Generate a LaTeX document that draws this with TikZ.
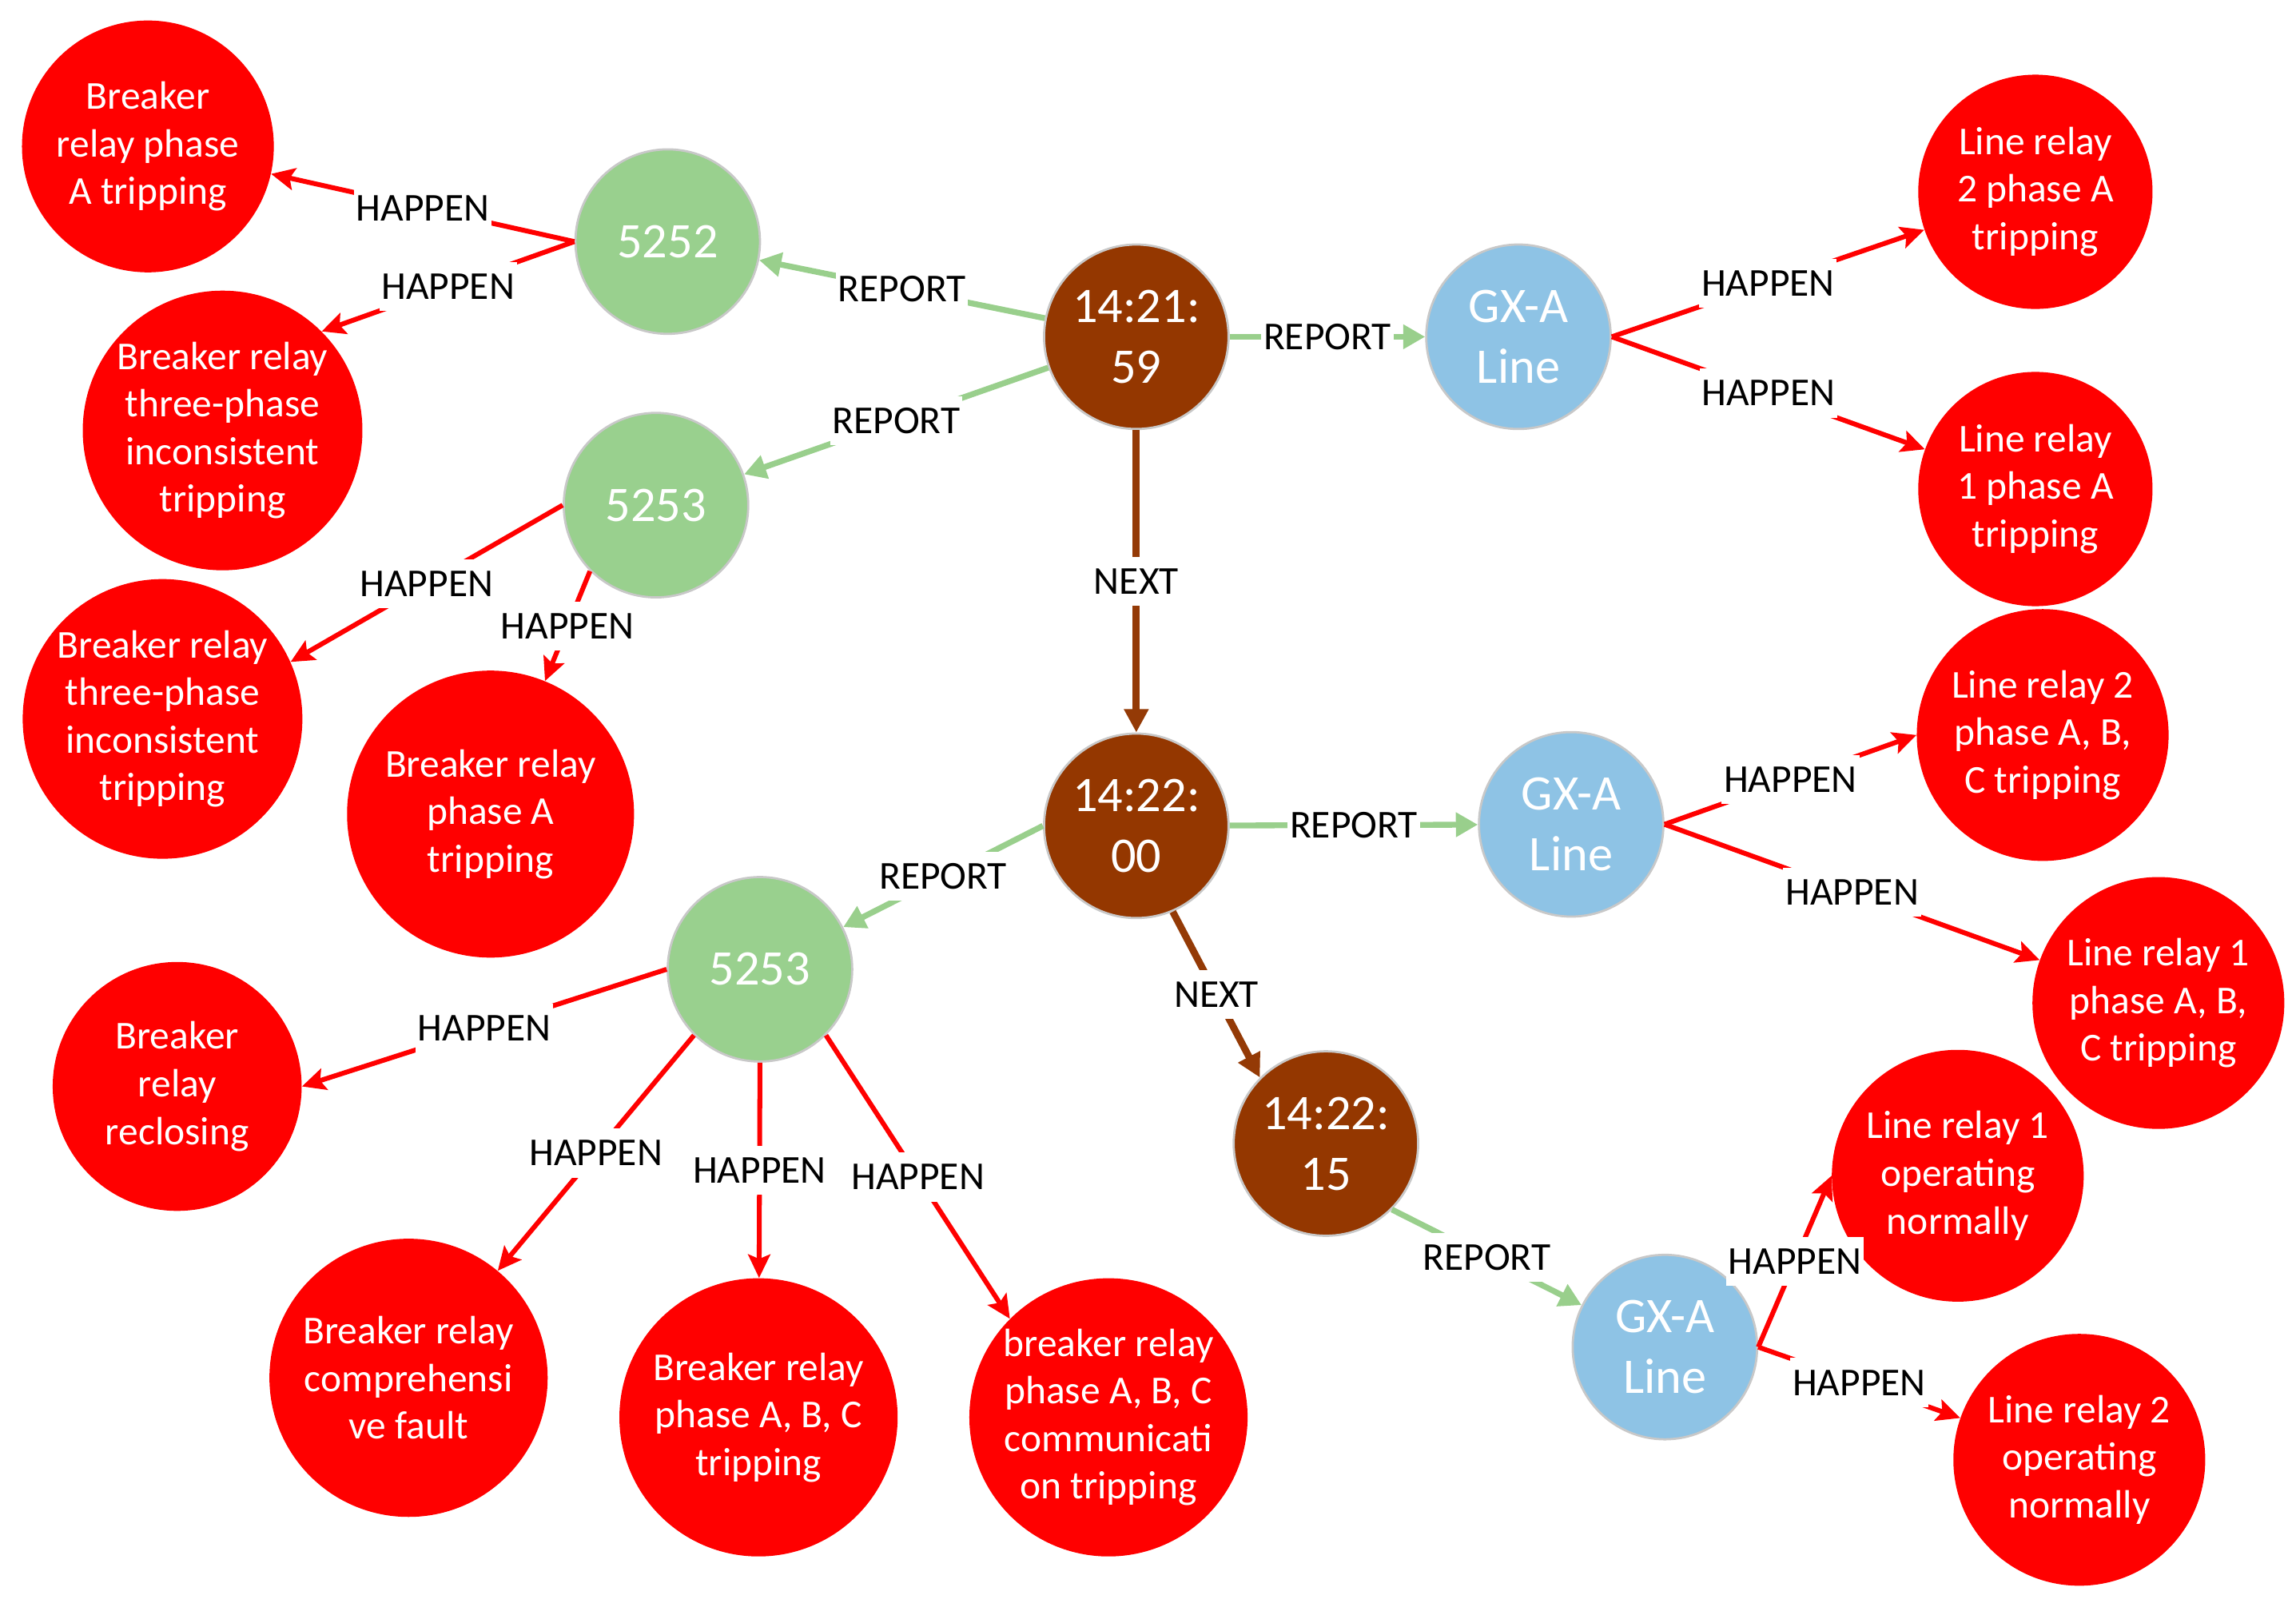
\documentclass[tikz,border=0pt]{standalone}
\usepackage{fontspec}
\setmainfont{Carlito}
\usetikzlibrary{arrows.meta}
\definecolor{cred}{HTML}{FF0000}
\definecolor{cgreen}{HTML}{99D08E}
\definecolor{cblue}{HTML}{8EC3E5}
\definecolor{cbrown}{HTML}{943700}
\definecolor{cgreenline}{HTML}{99CF8C}
\definecolor{cbrownline}{HTML}{943A06}
\definecolor{cring}{HTML}{C8C8C8}
\tikzset{
  evnode/.style={circle, fill=cred, text=white, minimum size=#1, inner sep=0pt, align=center,
    font=\fontsize{27}{32.5}\selectfont},
  entnode/.style={circle, fill=#1, draw=cring, line width=1.5pt, text=white, minimum size=126pt,
    inner sep=0pt, align=center, font=\fontsize{34}{41.5}\selectfont},
  happen/.style={draw=cred, line width=3.3pt, -{Stealth[length=16pt,width=15pt,inset=3pt]}},
  report/.style={draw=cgreenline, line width=4pt, -{Triangle[length=15pt,width=16pt]}},
  nextedge/.style={draw=cbrownline, line width=4.8pt, -{Triangle[length=16pt,width=16pt]}},
  lab/.style={fill=white, text=black, inner xsep=1.5pt, inner ysep=0pt, text height=25.5pt,
    text depth=8pt, font=\fontsize{27}{32}\selectfont}
}
\begin{document}
\begin{tikzpicture}[x=1pt, y=-1pt]
\useasboundingbox (0,0) rectangle (1568,1103);
% time nodes
\node[entnode=cbrown] (T1) at (776,230) {14:21:\\59};
\node[entnode=cbrown] (T2) at (776,564) {14:22:\\00};
\node[entnode=cbrown] (T3) at (905.5,781) {14:22:\\15};
% device nodes
\node[entnode=cgreen] (G1) at (456,165) {5252};
\node[entnode=cgreen] (G2) at (448,345) {5253};
\node[entnode=cgreen] (G3) at (519,662) {5253};
\node[entnode=cblue] (B1) at (1037,230) {GX-A\\Line};
\node[entnode=cblue] (B2) at (1073,563) {GX-A\\Line};
\node[entnode=cblue] (B3) at (1137,920) {GX-A\\Line};
% event nodes
\node[evnode=172pt] (R1) at (101,100) {Breaker\\relay phase\\A tripping};
\node[evnode=191pt] (R2) at (152,294) {Breaker relay\\three-phase\\inconsistent\\tripping};
\node[evnode=191pt] (R3) at (111,491) {Breaker relay\\three-phase\\inconsistent\\tripping};
\node[evnode=196pt] (R4) at (335,556) {Breaker relay\\phase A\\tripping};
\node[evnode=170pt] (R5) at (121,742) {Breaker\\relay\\reclosing};
\node[evnode=190pt] (R6) at (279,941) {Breaker relay\\comprehensi\\ve fault};
\node[evnode=190pt] (R7) at (518,968) {Breaker relay\\phase A, B, C\\tripping};
\node[evnode=190pt] (R8) at (757,968) {breaker relay\\phase A, B, C\\communicati\\on tripping};
\node[evnode=160pt] (R9) at (1390,131) {Line relay\\2 phase A\\tripping};
\node[evnode=160pt] (R10) at (1390,334) {Line relay\\1 phase A\\tripping};
\node[evnode=172pt] (R11) at (1395,502) {Line relay 2\\phase A, B,\\C tripping};
\node[evnode=172pt] (R12) at (1474,685) {Line relay 1\\phase A, B,\\C tripping};
\node[evnode=172pt] (R13) at (1337,803) {Line relay 1\\operating\\normally};
\node[evnode=172pt] (R14) at (1420,997) {Line relay 2\\operating\\normally};
% HAPPEN edges
\draw[happen] (G1.west) -- node[lab]{HAPPEN} (R1);
\draw[happen] (G1.west) -- node[lab]{HAPPEN} (R2.45);
\draw[happen] (G2.west) -- node[lab]{HAPPEN} (R3.24);
\draw[happen] (G2.225) -- node[lab]{HAPPEN} (R4);
\draw[happen] (G3.west) -- node[lab]{HAPPEN} (R5.east);
\draw[happen] (G3.225) -- node[lab]{HAPPEN} (R6);
\draw[happen] (G3.south) -- node[lab]{HAPPEN} (R7);
\draw[happen] (G3.-45) -- node[lab]{HAPPEN} (R8.135);
\draw[happen] (B1.east) -- node[lab]{HAPPEN} (R9);
\draw[happen] (B1.east) -- node[lab]{HAPPEN} (R10);
\draw[happen] (B2.east) -- node[lab]{HAPPEN} (R11.west);
\draw[happen] (B2.east) -- node[lab]{HAPPEN} (R12);
\draw[happen] (B3.east) -- node[lab]{HAPPEN} (R13.west);
\draw[happen] (B3.east) -- node[lab]{HAPPEN} (R14);
% REPORT / NEXT edges
\draw[report] (T1) -- node[lab]{REPORT} (G1);
\draw[report] (T1) -- node[lab]{REPORT} (G2);
\draw[report] (T1) -- node[lab]{REPORT} (B1);
\draw[nextedge] (T1) -- node[lab]{NEXT} (T2);
\draw[report] (T2.west) -- node[lab]{REPORT} (G3);
\draw[report] (T2) -- node[lab]{REPORT} (B2);
\draw[nextedge] (T2.-67) -- node[lab]{NEXT} (T3.135);
\draw[report] (T3.-45) -- node[lab]{REPORT} (B3);
\end{tikzpicture}
\end{document}
